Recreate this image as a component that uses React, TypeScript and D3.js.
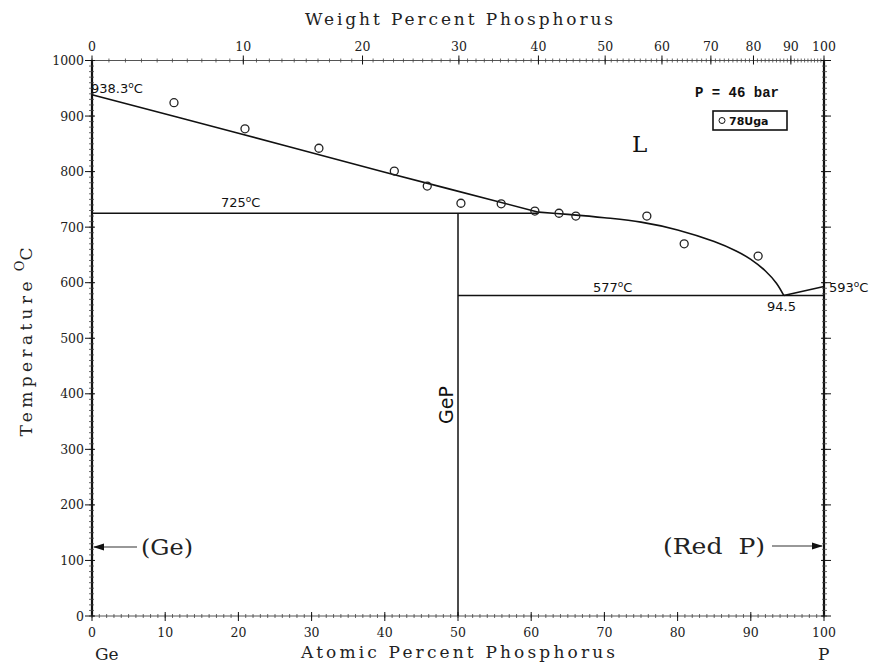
import React from "react";
import * as d3 from "d3";

// ---- data ----
const atTicks = [0, 10, 20, 30, 40, 50, 60, 70, 80, 90, 100];
const wtTicks = [0, 10, 20, 30, 40, 50, 60, 70, 80, 90, 100];
const tempTicks = [0, 100, 200, 300, 400, 500, 600, 700, 800, 900, 1000];

const GE_MASS = 72.63;
const P_MASS = 30.974;

// liquidus, Ge side up to the peritectic (at.% P, °C)
const liqAX = [0, 20, 40, 61];
const liqAT = [938.3, 869, 799, 727];
// liquidus, GeP side down to the eutectic
const liqBX = [61, 65, 70, 75, 80, 85, 88, 90, 92, 93.5, 94.5];
const liqBT = [727, 723, 717, 709, 695, 674, 657, 642, 621, 599, 577];
// P-side liquidus
const liq2X = [94.5, 100];
const liq2T = [577, 593];

// 78Uga experimental points
const ugaX = [11.2, 20.9, 31.0, 41.3, 45.8, 50.4, 55.9, 60.5, 63.8, 66.1, 75.8, 80.9, 91.0];
const ugaT = [924, 877, 842, 801, 774, 743, 742, 729, 725, 720, 720, 670, 648];

// invariant lines
const peritecticT = 725;
const peritecticX = [0, 61];
const eutecticT = 577;
const eutecticX = [50, 100];
const compoundX = 50;

function wtToAt(w: number) {
  if (w >= 100) return 100;
  const p = w / P_MASS;
  const g = (100 - w) / GE_MASS;
  return (100 * p) / (p + g);
}

const W = 874;
const H = 664;

export default function App() {
  const x = d3.scaleLinear().domain([0, 100]).range([92, 824]);
  const y = d3.scaleLinear().domain([0, 1000]).range([616, 60.5]);
  const x0 = x(0), x1 = x(100), y0 = y(0), y1 = y(1000);

  const curve = d3
    .line<[number, number]>()
    .x((d) => x(d[0]))
    .y((d) => y(d[1]))
    .curve(d3.curveCatmullRom.alpha(0.5));
  const straight = d3
    .line<[number, number]>()
    .x((d) => x(d[0]))
    .y((d) => y(d[1]));

  const liqA = liqAX.map((v, i) => [v, liqAT[i]] as [number, number]);
  const liqB = liqBX.map((v, i) => [v, liqBT[i]] as [number, number]);
  const liq2 = liq2X.map((v, i) => [v, liq2T[i]] as [number, number]);

  const minorAt = d3.range(0, 101, 1);
  const minorWt = d3.range(0, 101, 1);
  const minorT = d3.range(0, 1001, 10);

  const tickFont = { fontFamily: "DejaVu Serif", fontSize: 12.5, fill: "#222" };
  const annFont = { fontFamily: "DejaVu Sans", fontSize: 13, fill: "#111" };

  const deg = (val: string, px: number, py: number) => (
    <text x={px} y={py} style={annFont as any}>
      {val}
      <tspan dy={-5} fontSize={9}>o</tspan>
      <tspan dy={5}>C</tspan>
    </text>
  );

  return (
    <svg width={W} height={H} style={{ display: "block", position: "absolute", left: 0, top: 0, background: "#fff" }}>
      <rect x={0} y={0} width={W} height={H} fill="#fff" />

      {/* frame */}
      <line x1={x0} y1={y1} x2={x1} y2={y1} stroke="#555" strokeWidth={1} />
      <line x1={x0} y1={y0} x2={x1} y2={y0} stroke="#555" strokeWidth={1} />
      <line x1={x0} y1={y1} x2={x0} y2={y0} stroke="#111" strokeWidth={2.2} />
      <line x1={x1} y1={y1} x2={x1} y2={y0} stroke="#111" strokeWidth={2.2} />

      {/* minor ticks */}
      {minorAt.map((v) => (
        <line key={"ma" + v} x1={x(v)} x2={x(v)} y1={y0 - 2} y2={y0 + 2} stroke="#444" strokeWidth={0.8} />
      ))}
      {minorWt.map((v) => (
        <line key={"mw" + v} x1={x(wtToAt(v))} x2={x(wtToAt(v))} y1={y1 - 2} y2={y1 + 2} stroke="#444" strokeWidth={0.8} />
      ))}
      {minorT.map((v) => (
        <g key={"mt" + v}>
          <line x1={x0 - 3} x2={x0 + 2} y1={y(v)} y2={y(v)} stroke="#444" strokeWidth={0.8} />
          <line x1={x1 - 2} x2={x1 + 3} y1={y(v)} y2={y(v)} stroke="#444" strokeWidth={0.8} />
        </g>
      ))}

      {/* major ticks & labels */}
      {atTicks.map((v) => (
        <g key={"at" + v}>
          <line x1={x(v)} x2={x(v)} y1={y0 - 4} y2={y0 + 5} stroke="#111" strokeWidth={1} />
          <text x={x(v)} y={y0 + 21} textAnchor="middle" style={tickFont as any}>{v}</text>
        </g>
      ))}
      {wtTicks.map((v) => (
        <g key={"wt" + v}>
          <line x1={x(wtToAt(v))} x2={x(wtToAt(v))} y1={y1 - 5} y2={y1 + 4} stroke="#111" strokeWidth={1} />
          <text x={x(wtToAt(v))} y={y1 - 10} textAnchor="middle" style={tickFont as any}>{v}</text>
        </g>
      ))}
      {tempTicks.map((v) => (
        <g key={"tt" + v}>
          <line x1={x0 - 7} x2={x0 + 3} y1={y(v)} y2={y(v)} stroke="#111" strokeWidth={1} />
          <line x1={x1 - 3} x2={x1 + 7} y1={y(v)} y2={y(v)} stroke="#111" strokeWidth={1} />
          <text x={x0 - 8} y={y(v) + 4.5} textAnchor="end" style={tickFont as any}>{v}</text>
        </g>
      ))}

      {/* axis titles */}
      <text x={459} y={25} textAnchor="middle" textLength={308} lengthAdjust="spacing"
        style={{ fontFamily: "DejaVu Serif", fontSize: 17, fill: "#222" }}>Weight Percent Phosphorus</text>
      <text x={458} y={658} textAnchor="middle" textLength={314} lengthAdjust="spacing"
        style={{ fontFamily: "DejaVu Serif", fontSize: 17, fill: "#222" }}>Atomic Percent Phosphorus</text>
      <text x={95} y={660} style={{ fontFamily: "DejaVu Serif", fontSize: 17, fill: "#222" }}>Ge</text>
      <text x={818} y={660} style={{ fontFamily: "DejaVu Serif", fontSize: 17, fill: "#222" }}>P</text>
      <text transform="translate(32,342) rotate(-90)" textAnchor="middle"
        style={{ fontFamily: "DejaVu Serif", fontSize: 17, fill: "#222" }}>
        <tspan textLength={155} lengthAdjust="spacing">Temperature</tspan>
        <tspan dx={6} dy={-8} fontSize={13}>O</tspan>
        <tspan dy={8}>C</tspan>
      </text>

      {/* invariant lines */}
      <path d={straight([[peritecticX[0], peritecticT], [peritecticX[1], peritecticT]]) || ""} fill="none" stroke="#111" strokeWidth={1.5} />
      <path d={straight([[eutecticX[0], eutecticT], [eutecticX[1], eutecticT]]) || ""} fill="none" stroke="#111" strokeWidth={1.5} />
      <path d={straight([[compoundX, 0], [compoundX, peritecticT]]) || ""} fill="none" stroke="#111" strokeWidth={1.5} />

      {/* liquidus */}
      <path d={curve(liqA) || ""} fill="none" stroke="#111" strokeWidth={1.6} />
      <path d={curve(liqB) || ""} fill="none" stroke="#111" strokeWidth={1.6} />
      <path d={straight(liq2) || ""} fill="none" stroke="#111" strokeWidth={1.6} />

      {/* data points */}
      {ugaX.map((v, i) => (
        <circle key={"u" + i} cx={x(v)} cy={y(ugaT[i])} r={4} fill="none" stroke="#222" strokeWidth={1.3} />
      ))}

      {/* annotations */}
      {deg("938.3", 91, 93)}
      {deg("725", 221, 207)}
      {deg("577", 593, 292)}
      {deg("593", 829, 292)}
      <text x={767} y={311} style={annFont as any}>94.5</text>
      <text x={632} y={152} style={{ fontFamily: "DejaVu Serif", fontSize: 23, fill: "#111" }}>L</text>
      <text x={695} y={97} style={{ fontFamily: "Liberation Mono", fontSize: 14, fontWeight: 700, fill: "#111" }}>P = 46 bar</text>
      <rect x={713} y={111} width={74} height={19} fill="none" stroke="#111" strokeWidth={1.6} />
      <circle cx={722} cy={120.5} r={3} fill="none" stroke="#111" strokeWidth={1} />
      <text x={729} y={125} style={{ fontFamily: "DejaVu Sans", fontSize: 11, fontWeight: 700, fill: "#111" }}>78Uga</text>
      <text transform={`translate(${x(compoundX) - 5},405) rotate(-90)`} textAnchor="middle"
        style={{ fontFamily: "DejaVu Sans", fontSize: 19, fill: "#111" }}>GeP</text>

      {/* allotrope arrows */}
      <line x1={x0 + 2} y1={547} x2={137} y2={547} stroke="#333" strokeWidth={1.2} />
      <path d={`M${x0 + 1},547 L${x0 + 12},543.5 L${x0 + 12},550.5 Z`} fill="#111" />
      <text x={141} y={555} textLength={52} lengthAdjust="spacingAndGlyphs"
        style={{ fontFamily: "DejaVu Serif", fontSize: 22, fill: "#222" }}>(Ge)</text>
      <line x1={772} y1={546} x2={x1 - 2} y2={546} stroke="#333" strokeWidth={1.2} />
      <path d={`M${x1 - 1},546 L${x1 - 12},542.5 L${x1 - 12},549.5 Z`} fill="#111" />
      <text x={663} y={554} textLength={102} lengthAdjust="spacingAndGlyphs"
        style={{ fontFamily: "DejaVu Serif", fontSize: 22, fill: "#222", whiteSpace: "pre" }} xmlSpace="preserve">(Red  P)</text>
    </svg>
  );
}
